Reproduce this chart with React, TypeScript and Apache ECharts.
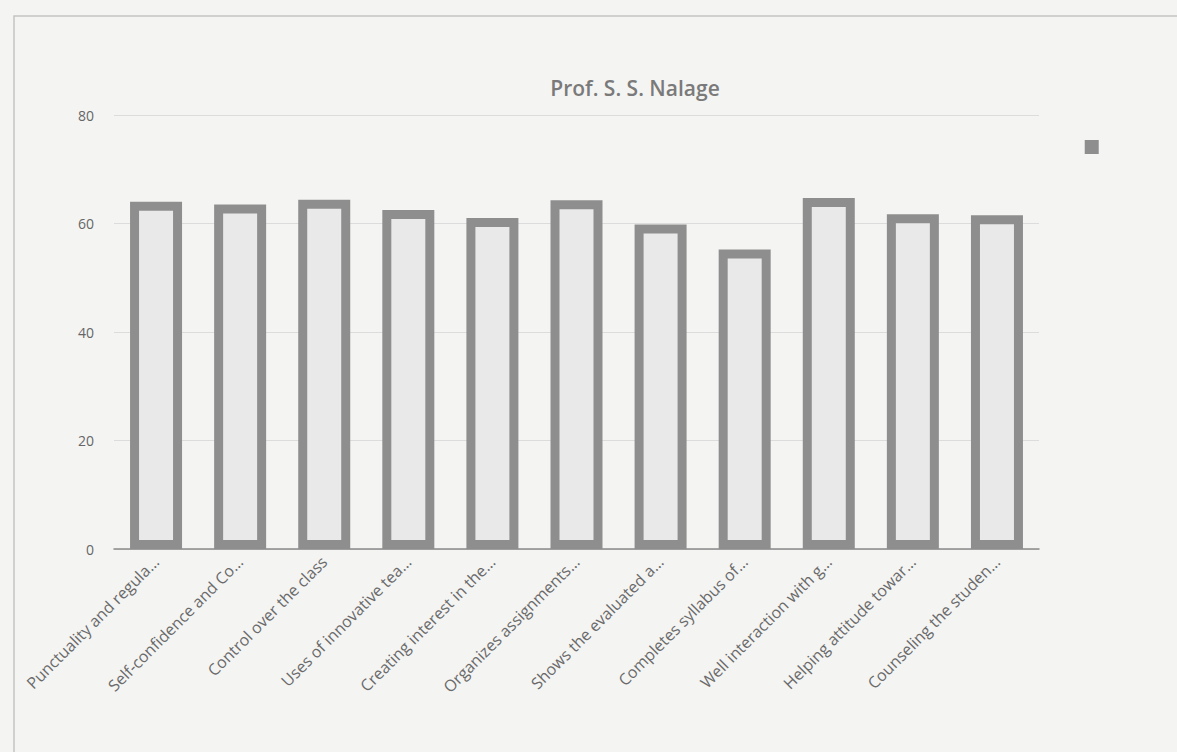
import React, { useEffect, useRef } from "react";
import * as echarts from "echarts";

const titleText = "Prof. S. S. Nalage";
const categories = [
  "Punctuality and regula…",
  "Self-confidence and Co…",
  "Control over the class",
  "Uses of innovative tea…",
  "Creating interest in the…",
  "Organizes assignments…",
  "Shows the evaluated a…",
  "Completes syllabus of…",
  "Well interaction with g…",
  "Helping attitude towar…",
  "Counseling the studen…",
];
const values = [64, 63.5, 64.4, 62.5, 61, 64.3, 59.8, 55.2, 64.7, 61.7, 61.5];
const yTicks = { min: 0, max: 80, interval: 20 };
const seriesName = " ";

export default function App() {
  const ref = useRef<HTMLDivElement>(null);
  useEffect(() => {
    document.body.style.margin = "0";
    const chart = echarts.init(ref.current!, null, { renderer: "svg" });
    chart.setOption({
      animation: false,
      backgroundColor: "#f4f4f3",
      title: {
        text: titleText,
        left: 630,
        top: 72,
        textAlign: "center",
        textStyle: {
          fontFamily: "Open Sans",
          fontSize: 21,
          fontWeight: 600,
          color: "#7a7a7a",
        },
      },
      legend: {
        data: [{ name: seriesName, icon: "rect" }],
        right: 68,
        top: 135,
        itemWidth: 14,
        itemHeight: 14,
        itemGap: 0,
        itemStyle: { color: "#8e8e8e", borderWidth: 0 },
        textStyle: { fontSize: 1, color: "transparent" },
      },
      graphic: [
        {
          type: "rect",
          shape: { x: 14, y: 16, width: 1200, height: 760 },
          style: { fill: "none", stroke: "#c4c4c4", lineWidth: 1.5 },
          silent: true,
        },
      ],
      grid: { left: 114, right: 138, top: 115, bottom: 203 },
      xAxis: {
        type: "category",
        data: categories,
        axisTick: { show: false },
        axisLine: { lineStyle: { color: "#8a8a8a", width: 1.5 } },
        axisLabel: {
          rotate: 45,
          interval: 0,
          margin: 10,
          fontFamily: "Open Sans",
          fontSize: 16,
          color: "#6a6a6a",
        },
      },
      yAxis: {
        type: "value",
        min: yTicks.min,
        max: yTicks.max,
        interval: yTicks.interval,
        axisLine: { show: false },
        axisTick: { show: false },
        axisLabel: {
          fontFamily: "Open Sans",
          fontSize: 14,
          color: "#666666",
          margin: 20,
        },
        splitLine: { lineStyle: { color: "#dcdcdc", width: 1 } },
      },
      series: [
        {
          name: seriesName,
          type: "bar",
          data: values,
          barWidth: 52,
          itemStyle: {
            color: "#e9e9e9",
            borderColor: "#8e8e8e",
            borderWidth: 9,
          },
        },
      ],
    });
    return () => chart.dispose();
  }, []);
  return <div ref={ref} style={{ width: 1177, height: 752 }} />;
}
